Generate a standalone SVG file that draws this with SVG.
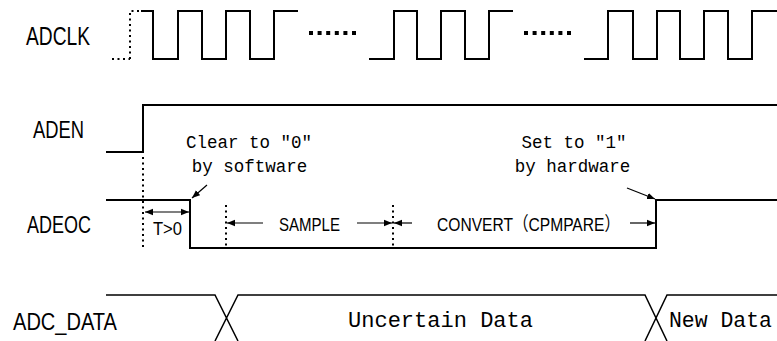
<svg xmlns="http://www.w3.org/2000/svg" width="777" height="341" viewBox="0 0 777 341">
<style>
.sig{fill:none;stroke:#000;stroke-width:2;stroke-linejoin:miter}
.dat{fill:none;stroke:#000;stroke-width:1.5}
.dot{fill:none;stroke:#000;stroke-width:2;stroke-dasharray:2 3.5}
.ell{fill:none;stroke:#000;stroke-width:4;stroke-dasharray:4 4.6}
.arr{fill:none;stroke:#000;stroke-width:1.2}
.lbl{font-family:"Liberation Sans","DejaVu Sans",sans-serif;fill:#000}
.mono{font-family:"Liberation Mono","DejaVu Sans Mono",monospace;fill:#000}
.cond{font-family:"Liberation Sans","Noto Sans CJK SC",sans-serif;fill:#000}
</style>
<defs>
<marker id="ah" viewBox="0 0 10 10" refX="10" refY="5" markerWidth="8" markerHeight="8" markerUnits="userSpaceOnUse" orient="auto-start-reverse">
<path d="M0,1 L10,5 L0,9 Z" fill="#000"/>
</marker>
</defs>
<rect width="777" height="341" fill="#fff"/>
<g id="adclk">
<text class="lbl" x="26" y="45" font-size="25" textLength="64" lengthAdjust="spacingAndGlyphs">ADCLK</text>
<path class="dot" d="M112,59 H130 M130,59 V11 H141"/>
<path class="sig" d="M141,11 H153 V59 H178 V11 H202 V59 H226 V11 H250 V59 H274 V11 H298"/>
<path class="ell" d="M309,33 H357"/>
<path class="sig" d="M369,59 H394 V11 H417 V59 H441 V11 H465 V59 H489 V11 H513"/>
<path class="ell" d="M524,33 H572"/>
<path class="sig" d="M584,59 H608 V11 H633 V59 H657 V11 H680 V59 H704 V11 H728 V59 H752 V11 H777"/>
</g>
<g id="aden">
<text class="lbl" x="33" y="138" font-size="23" textLength="51" lengthAdjust="spacingAndGlyphs">ADEN</text>
<path class="sig" d="M106,152 H143 V105 H777"/>
</g>
<g id="adeoc">
<text class="lbl" x="27" y="233" font-size="23" textLength="64" lengthAdjust="spacingAndGlyphs">ADEOC</text>
<path class="sig" d="M106,200 H190 V248 H656 V200 H777"/>
</g>
<g id="adc_data">
<text class="lbl" x="13" y="330" font-size="23" textLength="104" lengthAdjust="spacingAndGlyphs">ADC_DATA</text>
<path class="dat" d="M106,295 H215 L238,341 M215,341 L238,295 H645 L667,341 M645,341 L667,295 H777"/>
<text class="mono" x="348" y="327" font-size="22" textLength="185" lengthAdjust="spacingAndGlyphs">Uncertain Data</text>
<text class="mono" x="669" y="327" font-size="22" textLength="103" lengthAdjust="spacingAndGlyphs">New Data</text>
</g>
<g id="notes">
<text class="mono" x="249" y="148" font-size="17.5" text-anchor="middle">Clear to "0"</text>
<text class="mono" x="249.5" y="172" font-size="17.5" text-anchor="middle">by software</text>
<text class="mono" x="574" y="148" font-size="17.5" text-anchor="middle">Set to "1"</text>
<text class="mono" x="572.5" y="172" font-size="17.5" text-anchor="middle">by hardware</text>
<text class="lbl" x="153" y="235" font-size="18" textLength="29" lengthAdjust="spacingAndGlyphs">T&gt;0</text>
<text class="lbl" x="279" y="231" font-size="19" textLength="61" lengthAdjust="spacingAndGlyphs">SAMPLE</text>
<text class="cond" x="437" y="231" font-size="19" textLength="183" lengthAdjust="spacingAndGlyphs">CONVERT（CPMPARE）</text>
</g>
<g id="connectors">
<path class="dot" d="M143,157 V248"/>
<path class="dot" d="M226,205 V248"/>
<path class="dot" d="M393,205 V248"/>
<line class="arr" x1="145" y1="212" x2="189" y2="212" marker-start="url(#ah)" marker-end="url(#ah)"/>
<line class="arr" x1="263" y1="223" x2="227" y2="223" marker-end="url(#ah)"/>
<line class="arr" x1="357" y1="223" x2="392" y2="223" marker-end="url(#ah)"/>
<line class="arr" x1="412" y1="223" x2="394" y2="223" marker-end="url(#ah)"/>
<line class="arr" x1="630" y1="223" x2="655" y2="223" marker-end="url(#ah)"/>
<line class="arr" x1="207" y1="185" x2="192" y2="198" marker-end="url(#ah)"/>
<line class="arr" x1="627" y1="188" x2="655" y2="199" marker-end="url(#ah)"/>
</g>
</svg>
